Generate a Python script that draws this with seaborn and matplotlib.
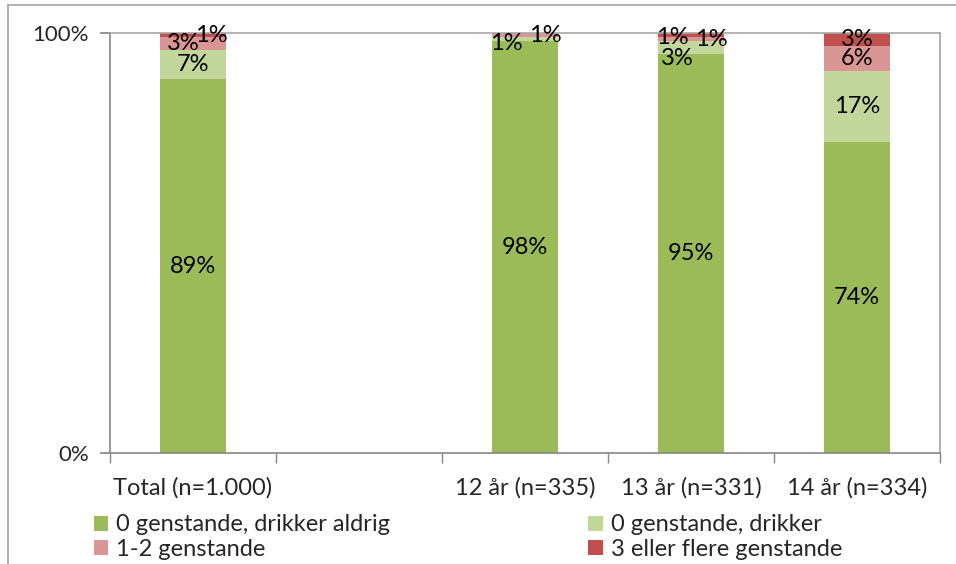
import matplotlib
matplotlib.use("Agg")
import matplotlib.pyplot as plt
from matplotlib.lines import Line2D
from matplotlib.patches import Patch
import numpy as np
import pandas as pd
import seaborn as sns

# ── data ──────────────────────────────────────────────────────────────────────
categories = ["Total (n=1.000)", "12 år (n=335)", "13 år (n=331)", "14 år (n=334)"]
axis_order = ["Total (n=1.000)", " ", "12 år (n=335)", "13 år (n=331)", "14 år (n=334)"]
series = ["0 genstande, drikker aldrig", "0 genstande, drikker",
          "1-2 genstande", "3 eller flere genstande"]
drikker_aldrig = [89, 98, 95, 74]
drikker = [7, 1, 3, 17]
en_to = [3, 1, 1, 6]
tre_plus = [1, 0, 1, 3]
colors = ["#9BBB59", "#C3D69B", "#D99694", "#C0504D"]

sns.set_theme(style="white")
plt.rcParams["font.family"] = ["Lato", "DejaVu Sans"]
FS = 17

df = pd.DataFrame({"kategori": categories, series[0]: drikker_aldrig,
                   series[1]: drikker, series[2]: en_to, series[3]: tre_plus})
cum = df[series].cumsum(axis=1)

fig = plt.figure(figsize=(9.56, 5.64), dpi=100)
ax = fig.add_axes([0.1151, 0.1968, 0.8682, 0.7447])

# stack by drawing cumulative totals from top layer down
for s, c in reversed(list(zip(series, colors))):
    sns.barplot(x=df["kategori"], y=cum[s], order=axis_order, color=c,
                width=0.4, saturation=1, ax=ax, linewidth=0)

# data labels, small segments nudged sideways like the original
nudge = {(0, 2): (-0.06, 0), (0, 3): (0.11, 0),
         (1, 1): (-0.11, -1), (1, 2): (0.12, 0),
         (2, 1): (-0.08, -2.5), (2, 2): (-0.11, 0.5), (2, 3): (0.12, -1)}
for i, cat in enumerate(categories):
    xpos = axis_order.index(cat)
    base = 0
    for j, s in enumerate(series):
        v = df.loc[i, s]
        if v > 0:
            dx, dy = nudge.get((i, j), (0, 0))
            ax.text(xpos + dx, base + v / 2 + dy, f"{v}%",
                    ha="center", va="center", fontsize=FS, color="black")
        base += v

ax.set_ylim(0, 100)
ax.set_xlim(-0.5, 4.5)
ax.set_yticks([0, 100])
ax.set_yticklabels(["0%", "100%"], fontsize=FS - 1)
ax.set_xticks(range(len(axis_order)))
ax.set_xticklabels(axis_order, fontsize=FS)
ax.set_xticks(np.arange(-0.5, 5, 1), minor=True)
ax.tick_params(axis="x", which="major", length=0, pad=17)
ax.tick_params(axis="x", which="minor", length=7, color="#868686", direction="out", bottom=True)
ax.tick_params(axis="y", length=7, color="#868686", direction="out", left=True, pad=8)
ax.set_xlabel("")
ax.set_ylabel("")
for sp in ax.spines.values():
    sp.set_color("#A6A6A6")
    sp.set_linewidth(1.2)
ax.spines["left"].set_color("#868686")
ax.spines["bottom"].set_color("#868686")

handles = [Patch(facecolor=c, edgecolor="none") for c in colors]
order = [0, 2, 1, 3]
fig.legend([handles[k] for k in order], [series[k] for k in order],
           ncol=2, loc="upper left", bbox_to_anchor=(0.098, 0.088),
           frameon=False, fontsize=FS, handlelength=0.6, handleheight=0.6,
           handletextpad=0.35, columnspacing=8.4, labelspacing=0.15,
           borderaxespad=0, borderpad=0)

# chart-area border (left and top) as in the cropped original
fig.add_artist(Line2D([8 / 956, 8 / 956], [0, 1 - 5 / 564], color="#A6A6A6", lw=1.2))
fig.add_artist(Line2D([8 / 956, 1], [1 - 5 / 564, 1 - 5 / 564], color="#A6A6A6", lw=1.2))

fig.savefig("out.png", dpi=100)
